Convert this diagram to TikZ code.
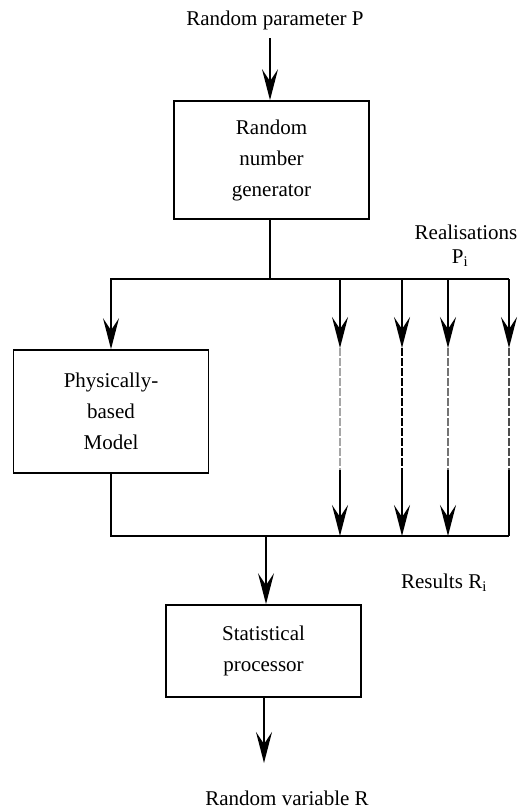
\documentclass[tikz,border=0pt]{standalone}
\usepackage{fontspec}
\setmainfont{Liberation Serif}
\usetikzlibrary{arrows.meta}
\begin{document}
\begin{tikzpicture}[x=1pt, y=-1pt, line width=1.7pt,
    lbl/.style={font=\fontsize{21}{31}\selectfont, inner sep=0pt},
    box/.style={draw, lbl, line width=1.7pt, align=center, minimum width=195pt},
    flow/.style={-{Stealth[length=31pt, width=16pt, inset=12pt]}}]
  \useasboundingbox (0,0) rectangle (526,812);
  \node (param) at (275,20) [lbl] {Random parameter P};
  \node (rng) at (271.5,160) [box, minimum height=118pt] {Random\\number\\generator};
  \node (phys) at (111,411.5) [box, minimum height=123pt] {Physically-\\based\\Model};
  \node (stat) at (263.5,651) [box, minimum height=92pt] {Statistical\\processor};
  \node (real) at (466,232) [lbl] {Realisations};
  \node (pi) at (460,258) [lbl] {P\textsubscript{i}};
  \node (res) at (444,583) [lbl] {Results R\textsubscript{i}};
  \node (out) at (287,798) [lbl] {Random variable R};
  \coordinate (start) at (270,38);
  \coordinate (split) at (270,279);
  \coordinate (splitR) at (509,279);
  \coordinate (merge) at (266,536);
  \coordinate (mergeR) at (509,536);
  \coordinate (tip) at (264,763);
  \draw[flow] (start) -- (rng.north -| start);
  \draw (rng.south -| split) -- (split);
  \draw[flow] (split) -| (phys.north);
  \draw (split) -- (splitR);
  \draw (phys.south) |- (mergeR);
  \draw[flow] (merge) -- (stat.north -| merge);
  \draw[flow] (stat.south -| tip) -- (tip);
  %parallel realisations: arrow, dashed part, arrow
  \foreach \x/\c/\n in {340/black!35/1, 402/black/2, 448/black!55/3, 509/black!70/4} {
    \coordinate (a\n) at (\x,279);
    \coordinate (b\n) at (\x,348);
    \coordinate (c\n) at (\x,470);
    \coordinate (d\n) at (\x,536);
    \draw[flow] (a\n) -- (b\n);
    \draw[\c, line width=2pt, dash pattern=on 8pt off 2pt] (b\n) -- (c\n);
  }
  \foreach \n in {1,2,3} \draw[flow] (c\n) -- (d\n);
  \draw (c4) -- (d4);
\end{tikzpicture}
\end{document}
